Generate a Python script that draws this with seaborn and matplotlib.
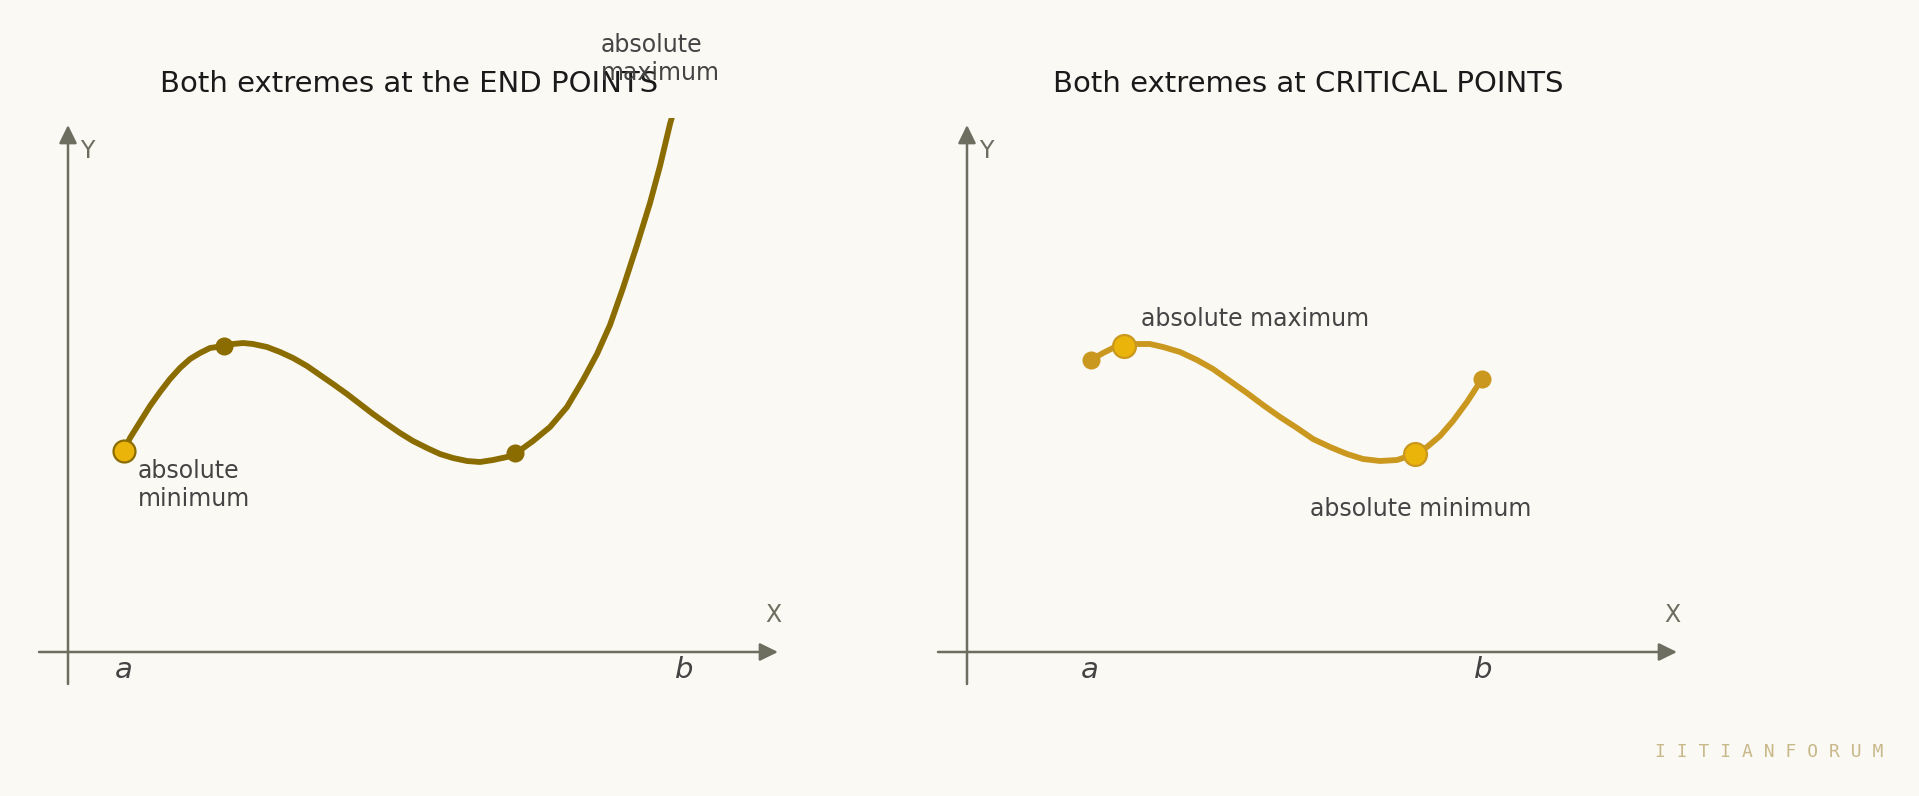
import matplotlib
matplotlib.use("Agg")
import matplotlib.pyplot as plt
import seaborn as sns

# ------------------ DATA ------------------

# left panel: extremes at the end points
left_x = [0.56, 0.62, 0.72, 0.82, 0.92, 1.02, 1.12, 1.22, 1.32, 1.42, 1.56, 1.65,
          1.75, 1.85, 1.99, 2.12, 2.25, 2.39, 2.52, 2.65, 2.79, 2.92, 3.05, 3.19,
          3.32, 3.45, 3.59, 3.72, 3.85, 3.99, 4.12, 4.25, 4.39, 4.47, 4.65, 4.82,
          4.99, 5.15, 5.29, 5.42, 5.55, 5.69, 5.82, 5.92, 6.02, 6.04]
left_y = [2.01, 2.14, 2.30, 2.46, 2.60, 2.73, 2.84, 2.93, 2.99, 3.04, 3.06, 3.08,
          3.09, 3.08, 3.05, 3.00, 2.94, 2.86, 2.77, 2.68, 2.58, 2.48, 2.38, 2.28,
          2.19, 2.11, 2.04, 1.98, 1.94, 1.91, 1.90, 1.92, 1.95, 1.98, 2.11, 2.25,
          2.45, 2.72, 2.98, 3.27, 3.64, 4.07, 4.49, 4.86, 5.28, 5.35]
left_end_x = [0.56]
left_end_y = [2.01]
left_crit_x = [1.56, 4.47]
left_crit_y = [3.06, 1.99]
left_ticks_x = [0.56, 6.16]

# right panel: extremes at critical points
right_x = [1.24, 1.36, 1.46, 1.57, 1.70, 1.83, 1.96, 2.13, 2.30, 2.46, 2.63, 2.80,
           2.96, 3.13, 3.30, 3.46, 3.63, 3.80, 3.96, 4.13, 4.30, 4.48, 4.60, 4.73,
           4.86, 5.00, 5.15]
right_y = [2.92, 2.99, 3.04, 3.06, 3.08, 3.08, 3.05, 3.00, 2.92, 2.83, 2.71, 2.59,
           2.47, 2.35, 2.24, 2.13, 2.05, 1.98, 1.93, 1.91, 1.92, 1.98, 2.05, 2.16,
           2.31, 2.50, 2.73]
right_end_x = [1.24, 5.15]
right_end_y = [2.92, 2.73]
right_crit_x = [1.57, 4.48]
right_crit_y = [3.06, 1.98]
right_ticks_x = [1.23, 5.16]

tick_labels = ["a", "b"]
titles = ["Both extremes at the END POINTS", "Both extremes at CRITICAL POINTS"]

# ------------------ STYLE ------------------

BG = "#FAF9F4"
AXIS_C = "#6E6E60"
DARK_GOLD = "#8B6C00"
GOLD = "#CA981E"
YELLOW = "#EAB40A"
TEXT_C = "#444444"

sns.set_style("white")
plt.rcParams["font.family"] = ["DejaVu Sans"]

fig = plt.figure(figsize=(19.19, 7.96), dpi=100, facecolor=BG)

W, H = 1919, 796


def make_axes(left_px):
    ax = fig.add_axes([left_px / W, (H - 690) / H, 739 / W, 572 / H])
    ax.set_xlim(-0.29, 7.10)
    ax.set_ylim(-0.38, 5.34)
    ax.axis("off")
    # coordinate axes with arrow heads
    arrow = dict(arrowstyle="-|>,head_length=0.55,head_width=0.27",
                 mutation_scale=20, lw=1.8, color=AXIS_C,
                 shrinkA=0, shrinkB=0)
    ax.annotate("", xy=(7.10, 0), xytext=(-0.29, 0), arrowprops=arrow)
    ax.annotate("", xy=(0, 5.27), xytext=(0, -0.32), arrowprops=arrow)
    ax.text(0.19, 5.01, "Y", fontsize=17, color=AXIS_C, ha="center", va="center")
    ax.text(7.05, 0.37, "X", fontsize=17, color=AXIS_C, ha="center", va="center")
    return ax


def draw_ticks(ax, xs):
    for xv, lab in zip(xs, tick_labels):
        ax.text(xv, -0.18, lab, fontsize=21, style="italic", color=TEXT_C,
                ha="center", va="center")


# ------------------ LEFT PANEL ------------------

ax1 = make_axes(39)
sns.lineplot(x=left_x, y=left_y, ax=ax1, color=DARK_GOLD, linewidth=4.2,
             estimator=None, sort=False, solid_capstyle="round",
             solid_joinstyle="round")
sns.scatterplot(x=left_crit_x, y=left_crit_y, ax=ax1, color=DARK_GOLD,
                s=169, linewidth=0, zorder=3)
sns.scatterplot(x=left_end_x, y=left_end_y, ax=ax1, color=YELLOW,
                edgecolor=DARK_GOLD, s=250, linewidth=1.6, zorder=4)
draw_ticks(ax1, left_ticks_x)
ax1.text(3.41, 5.68, titles[0], fontsize=21, color="#1A1A1A",
         ha="center", va="center")
ax1.text(0.70, 1.67, "absolute\nminimum", fontsize=17, color=TEXT_C,
         ha="left", va="center", linespacing=1.2)
ax1.text(5.33, 5.93, "absolute\nmaximum", fontsize=17, color=TEXT_C,
         ha="left", va="center", linespacing=1.2, clip_on=False)

# ------------------ RIGHT PANEL ------------------

ax2 = make_axes(938)
sns.lineplot(x=right_x, y=right_y, ax=ax2, color=GOLD, linewidth=4.2,
             estimator=None, sort=False, solid_capstyle="round",
             solid_joinstyle="round")
sns.scatterplot(x=right_end_x, y=right_end_y, ax=ax2, color=GOLD,
                s=169, linewidth=0, zorder=3)
sns.scatterplot(x=right_crit_x, y=right_crit_y, ax=ax2, color=YELLOW,
                edgecolor=GOLD, s=272, linewidth=1.6, zorder=4)
draw_ticks(ax2, right_ticks_x)
ax2.text(3.41, 5.68, titles[1], fontsize=21, color="#1A1A1A",
         ha="center", va="center")
ax2.text(1.74, 3.33, "absolute maximum", fontsize=17, color=TEXT_C,
         ha="left", va="center")
ax2.text(3.43, 1.43, "absolute minimum", fontsize=17, color=TEXT_C,
         ha="left", va="center")

# ------------------ WATERMARK ------------------

fig.text(1769 / W, (H - 752) / H, "I I T I A N F O R U M", fontsize=13,
         family="DejaVu Sans Mono", color="#C8B88A", ha="center", va="center")

fig.savefig("out.png", dpi=100, facecolor=BG)
plt.close(fig)
